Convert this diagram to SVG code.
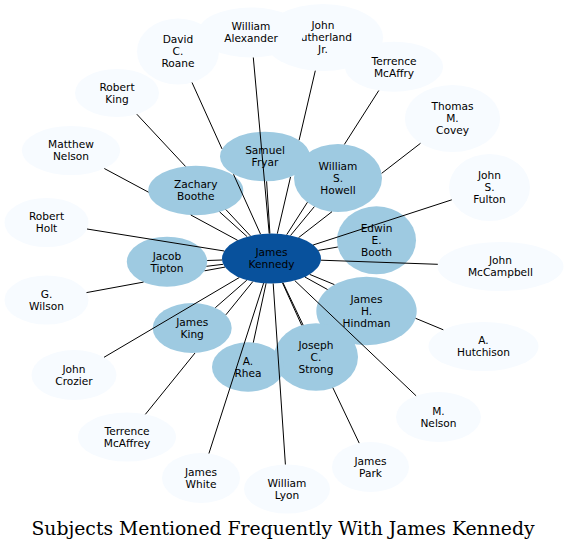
<svg xmlns="http://www.w3.org/2000/svg" width="569" height="551" viewBox="0 0 569 551">
<style>
.lt{fill:#f7fbff}
.md{fill:#9ecae1}
.dk{fill:#08519c}
text{font-family:"DejaVu Sans",sans-serif;font-size:10.6px;fill:#000;text-anchor:middle}
.title{font-family:"DejaVu Serif",serif;font-size:18.8px}
.e{stroke:#000;stroke-width:1;fill:none}
</style>
<rect width="569" height="551" fill="#fff"/>
<g id="nodes">
<g id="n-sutherland"><ellipse class="lt" cx="323" cy="37.5" rx="60" ry="33.5"/><text x="323" y="29.3">John</text><text x="323" y="41.3">Sutherland</text><text x="323" y="53.3">Jr.</text></g>
<g id="n-alexander"><ellipse class="lt" cx="251" cy="32.5" rx="53" ry="25"/><text x="251" y="30.3">William</text><text x="251" y="42.3">Alexander</text></g>
<g id="n-roane"><ellipse class="lt" cx="178" cy="51.5" rx="41" ry="33"/><text x="178" y="43.3">David</text><text x="178" y="55.3">C.</text><text x="178" y="67.3">Roane</text></g>
<g id="n-mcaffry"><ellipse class="lt" cx="394" cy="66.7" rx="49" ry="25"/><text x="394" y="64.5">Terrence</text><text x="394" y="76.5">McAffry</text></g>
<g id="n-covey"><ellipse class="lt" cx="452.5" cy="118.5" rx="47.5" ry="33.5"/><text x="452.5" y="110.3">Thomas</text><text x="452.5" y="122.3">M.</text><text x="452.5" y="134.3">Covey</text></g>
<g id="n-fulton"><ellipse class="lt" cx="489.5" cy="187.5" rx="40.5" ry="33.5"/><text x="489.5" y="179.3">John</text><text x="489.5" y="191.3">S.</text><text x="489.5" y="203.3">Fulton</text></g>
<g id="n-mccampbell"><ellipse class="lt" cx="500.5" cy="266.5" rx="63" ry="24.5"/><text x="500.5" y="264.3">John</text><text x="500.5" y="276.3">McCampbell</text></g>
<g id="n-hutchison"><ellipse class="lt" cx="483.5" cy="346.5" rx="55" ry="24.5"/><text x="483.5" y="344.3">A.</text><text x="483.5" y="356.3">Hutchison</text></g>
<g id="n-mnelson"><ellipse class="lt" cx="438.5" cy="417" rx="42.5" ry="25"/><text x="438.5" y="414.8">M.</text><text x="438.5" y="426.8">Nelson</text></g>
<g id="n-park"><ellipse class="lt" cx="370.5" cy="467" rx="38.5" ry="25"/><text x="370.5" y="464.8">James</text><text x="370.5" y="476.8">Park</text></g>
<g id="n-lyon"><ellipse class="lt" cx="287" cy="489" rx="43" ry="24.5"/><text x="287" y="486.8">William</text><text x="287" y="498.8">Lyon</text></g>
<g id="n-white"><ellipse class="lt" cx="201" cy="478" rx="39" ry="25"/><text x="201" y="475.8">James</text><text x="201" y="487.8">White</text></g>
<g id="n-mcaffrey"><ellipse class="lt" cx="127" cy="437" rx="49" ry="24.5"/><text x="127" y="434.8">Terrence</text><text x="127" y="446.8">McAffrey</text></g>
<g id="n-crozier"><ellipse class="lt" cx="74" cy="375" rx="42.5" ry="25"/><text x="74" y="372.8">John</text><text x="74" y="384.8">Crozier</text></g>
<g id="n-wilson"><ellipse class="lt" cx="46.5" cy="300" rx="42" ry="24.5"/><text x="46.5" y="297.8">G.</text><text x="46.5" y="309.8">Wilson</text></g>
<g id="n-holt"><ellipse class="lt" cx="46.5" cy="222.5" rx="42" ry="24.5"/><text x="46.5" y="220.3">Robert</text><text x="46.5" y="232.3">Holt</text></g>
<g id="n-mattnelson"><ellipse class="lt" cx="71" cy="150.5" rx="49" ry="24.5"/><text x="71" y="148.3">Matthew</text><text x="71" y="160.3">Nelson</text></g>
<g id="n-rking"><ellipse class="lt" cx="117" cy="93" rx="42" ry="24"/><text x="117" y="90.8">Robert</text><text x="117" y="102.8">King</text></g>
<g id="n-fryar"><ellipse class="md" cx="265" cy="156.5" rx="45" ry="24.8"/><text x="265" y="154.3">Samuel</text><text x="265" y="166.3">Fryar</text></g>
<g id="n-howell"><ellipse class="md" cx="338" cy="178" rx="44" ry="34"/><text x="338" y="169.8">William</text><text x="338" y="181.8">S.</text><text x="338" y="193.8">Howell</text></g>
<g id="n-boothe"><ellipse class="md" cx="195.8" cy="190.5" rx="47.5" ry="24.7"/><text x="195.8" y="188.3">Zachary</text><text x="195.8" y="200.3">Boothe</text></g>
<g id="n-booth"><ellipse class="md" cx="376.5" cy="240.3" rx="39.5" ry="34"/><text x="376.5" y="232.1">Edwin</text><text x="376.5" y="244.1">E.</text><text x="376.5" y="256.1">Booth</text></g>
<g id="n-tipton"><ellipse class="md" cx="167" cy="261.7" rx="40.2" ry="25"/><text x="167" y="259.5">Jacob</text><text x="167" y="271.5">Tipton</text></g>
<g id="n-hindman"><ellipse class="md" cx="366.5" cy="311" rx="50.2" ry="34.2"/><text x="366.5" y="302.8">James</text><text x="366.5" y="314.8">H.</text><text x="366.5" y="326.8">Hindman</text></g>
<g id="n-jking"><ellipse class="md" cx="192.2" cy="328" rx="39.5" ry="25"/><text x="192.2" y="325.8">James</text><text x="192.2" y="337.8">King</text></g>
<g id="n-strong"><ellipse class="md" cx="316" cy="357" rx="42" ry="33.7"/><text x="316" y="348.8">Joseph</text><text x="316" y="360.8">C.</text><text x="316" y="372.8">Strong</text></g>
<g id="n-rhea"><ellipse class="md" cx="248" cy="367" rx="36" ry="24.7"/><text x="248" y="364.8">A.</text><text x="248" y="376.8">Rhea</text></g>
<g id="n-kennedy"><ellipse class="dk" cx="271.5" cy="258.5" rx="49.5" ry="25"/><text x="271.5" y="256.3">James</text><text x="271.5" y="268.3">Kennedy</text></g>
</g>
<g id="edges">
<path class="e" d="M192.0,82.5L222.0,148.9M233.5,174.3L260.5,234.1"/>
<path class="e" d="M253.3,57.5L269.2,233.5"/>
<path class="e" d="M315.3,70.7L299.1,140.2M290.5,177.0L277.3,233.7"/>
<path class="e" d="M378.8,90.5L344.4,144.4M307.4,202.3L286.7,234.7"/>
<path class="e" d="M420.5,143.3L381.7,173.3M332.0,211.7L298.6,237.6"/>
<path class="e" d="M451.8,199.8L313.1,245.0"/>
<path class="e" d="M437.8,264.3L320.9,260.2"/>
<path class="e" d="M443.3,329.8L415.6,318.3M334.4,284.6L309.7,274.4"/>
<path class="e" d="M416.1,395.8L294.8,280.6"/>
<path class="e" d="M359.2,443.1L332.9,387.8M303.1,325.1L283.0,282.8"/>
<path class="e" d="M285.4,464.5L273.2,283.5"/>
<path class="e" d="M208.9,453.5L263.6,283.2"/>
<path class="e" d="M145.4,414.3L195.0,353.0M225.9,314.8L252.8,281.6"/>
<path class="e" d="M104.0,357.3L239.3,277.5"/>
<path class="e" d="M86.5,292.6L143.5,282.1M204.6,270.8L225.0,267.1"/>
<path class="e" d="M87.0,229.0L224.3,251.0"/>
<path class="e" d="M104.3,168.5L148.5,192.2M190.8,215.0L237.6,240.3"/>
<path class="e" d="M136.8,114.2L185.5,166.4M225.9,209.6L250.4,235.9"/>
<path class="e" d="M266.6,181.3L269.9,233.5"/>
<path class="e" d="M314.3,206.7L290.6,235.4"/>
<path class="e" d="M219.6,211.9L247.2,236.7"/>
<path class="e" d="M337.8,247.0L318.3,250.4"/>
<path class="e" d="M207.2,260.5L222.1,260.0"/>
<path class="e" d="M206.5,266.3L223.2,264.3"/>
<path class="e" d="M327.5,289.5L304.9,277.0"/>
<path class="e" d="M215.3,307.7L246.8,280.2"/>
<path class="e" d="M253.3,342.6L266.1,283.3"/>
<path class="e" d="M301.7,325.3L282.5,282.9"/>
</g>
<text class="title" x="283" y="535">Subjects Mentioned Frequently With James Kennedy</text>
</svg>
